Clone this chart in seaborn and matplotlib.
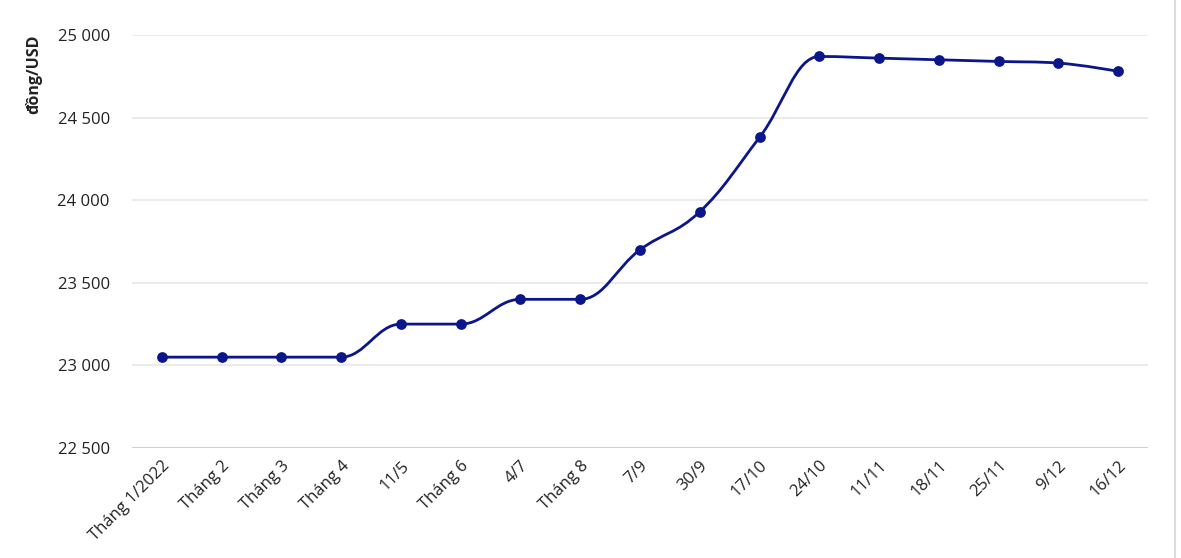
import numpy as np
import pandas as pd
import matplotlib
matplotlib.use("Agg")
import matplotlib.pyplot as plt
from matplotlib.path import Path
from matplotlib.patches import PathPatch
from matplotlib.lines import Line2D
import seaborn as sns

categories = ["Tháng 1/2022", "Tháng 2", "Tháng 3", "Tháng 4", "11/5", "Tháng 6",
              "4/7", "Tháng 8", "7/9", "30/9", "17/10", "24/10", "11/11", "18/11",
              "25/11", "9/12", "16/12"]
values = [23050, 23050, 23050, 23050, 23250, 23250, 23400, 23400, 23700, 23930,
          24380, 24870, 24860, 24850, 24840, 24830, 24780]
yticks = [22500, 23000, 23500, 24000, 24500, 25000]
ytick_labels = ["22 500", "23 000", "23 500", "24 000", "24 500", "25 000"]
ylabel = "đồng/USD"

LINE = "#0a1689"

sns.set_theme(style="white")
plt.rcParams["font.family"] = ["Open Sans", "DejaVu Sans"]

df = pd.DataFrame({"x": np.arange(len(categories)), "y": values, "cat": categories})

fig = plt.figure(figsize=(11.81, 5.58), dpi=100)
ax = fig.add_axes([132 / 1181, 110 / 558, 1016 / 1181, 413 / 558])


def spline_path(xs, ys, smoothing=1.5):
    n = len(xs)
    right = [None] * n
    verts = [(xs[0], ys[0])]
    codes = [Path.MOVETO]
    for i in range(1, n):
        px, py = xs[i], ys[i]
        lx, ly = xs[i - 1], ys[i - 1]
        lcx, lcy = px, py
        if i < n - 1:
            nx, ny = xs[i + 1], ys[i + 1]
            d = smoothing + 1
            lcx = (smoothing * px + lx) / d
            lcy = (smoothing * py + ly) / d
            rcx = (smoothing * px + nx) / d
            rcy = (smoothing * py + ny) / d
            corr = 0.0
            if rcx != lcx:
                corr = ((rcy - lcy) * (rcx - px)) / (rcx - lcx) + py - rcy
            lcy += corr
            rcy += corr
            if lcy > ly and lcy > py:
                lcy = max(ly, py); rcy = 2 * py - lcy
            elif lcy < ly and lcy < py:
                lcy = min(ly, py); rcy = 2 * py - lcy
            if rcy > ny and rcy > py:
                rcy = max(ny, py); lcy = 2 * py - rcy
            elif rcy < ny and rcy < py:
                rcy = min(ny, py); lcy = 2 * py - rcy
            right[i] = (rcx, rcy)
        c1 = right[i - 1] if right[i - 1] is not None else (lx, ly)
        verts += [c1, (lcx, lcy), (px, py)]
        codes += [Path.CURVE4, Path.CURVE4, Path.CURVE4]
    return Path(verts, codes)


# gridlines
for yt in yticks[1:]:
    ax.axhline(yt, color="#e6e6e6", lw=1.1, zorder=0)
ax.axhline(yticks[0], color="#c5d0e8", lw=1.4, zorder=1)

path = spline_path(df["x"].astype(float).tolist(), df["y"].astype(float).tolist())
ax.add_patch(PathPatch(path, facecolor="none", edgecolor=LINE, lw=2.0, zorder=3,
                       capstyle="round", joinstyle="round"))
sns.scatterplot(data=df, x="x", y="y", ax=ax, color=LINE, s=60, edgecolor=LINE,
                linewidth=0, zorder=4, legend=False)

ax.set_xlim(-0.5, len(categories) - 0.5)
ax.set_ylim(22500, 25000)
ax.set_xticks(df["x"])
ax.set_xticklabels(categories, rotation=45, ha="right", va="top",
                   rotation_mode="anchor", fontsize=12, color="#222222")
ax.set_yticks(yticks)
ax.set_yticklabels(ytick_labels, fontsize=12, color="#222222")
ax.tick_params(axis="x", length=0, pad=7)
ax.tick_params(axis="y", length=0, pad=16)
for s in ax.spines.values():
    s.set_visible(False)
ax.set_xlabel("")
ax.set_ylabel(ylabel, fontsize=11.5, fontweight="bold", color="#222222")
ax.yaxis.set_label_coords(-0.088, 0.905)

fig.add_artist(Line2D([1175 / 1181, 1175 / 1181], [0, 1], color="#dcdcdc", lw=1.5,
                      transform=fig.transFigure))

fig.savefig("out.png", dpi=100, facecolor="white")
